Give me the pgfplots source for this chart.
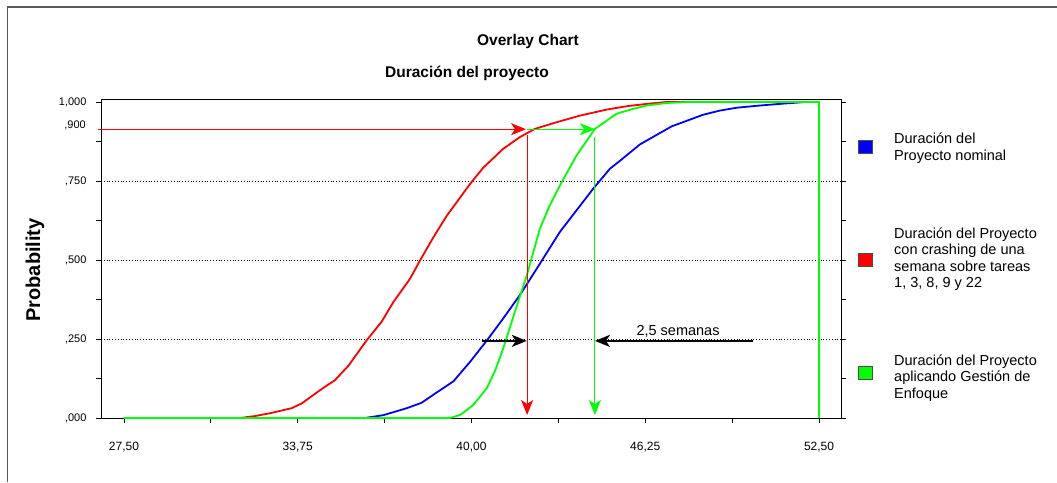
\documentclass[border=0pt]{standalone}
\usepackage{fontspec}
\setmainfont{Liberation Sans}
\usepackage{pgfplots}
\pgfplotsset{compat=1.18}
\usetikzlibrary{arrows.meta}
\definecolor{cblue}{RGB}{0,0,255}
\definecolor{cred}{RGB}{255,0,0}
\definecolor{cgreen}{RGB}{0,255,0}
\tikzset{bighead/.style={-{Stealth[length=15pt,width=12pt,inset=4pt]}}}
\begin{document}
\begin{tikzpicture}[x=1pt,y=1pt]
\path[use as bounding box] (0,0) rectangle (1057,482);
\draw[black!65, line width=1.3pt] (7.5,0) -- (7.5,475) -- (1057,475);
\begin{axis}[
  at={(101pt,64pt)}, anchor=south west,
  scale only axis, width=740pt, height=318.5pt,
  xmin=26.673, xmax=53.291, ymin=0, ymax=1.008,
  clip=false,
  axis line style={black, line width=1pt},
  tick align=outside,
  major tick length=5pt, minor tick length=5pt,
  tick style={black, line width=0.8pt},
  xtick pos=left,
  xtick={27.5,33.75,40,46.25,52.5},
  xticklabels={{27,50},{33,75},{40,00},{46,25},{52,50}},
  minor xtick={30.625,36.875,43.125,49.375},
  ytick={0,0.25,0.5,0.75,1},
  yticklabels={{,000},{,250},{,500},{,750},{1,000}},
  minor ytick={0.125,0.375,0.625,0.875},
  extra y ticks={0.25,0.5,0.75},
  extra y tick labels={},
  extra y tick style={grid=major},
  major grid style={black, line width=0.9pt, dash pattern=on 1pt off 1.8pt},
  yticklabel style={font=\fontsize{11}{13}\selectfont, xshift=-6pt},
  xticklabel style={font=\fontsize{12}{14}\selectfont, yshift=-16pt},
]
\addplot[cblue, line width=1.8pt] coordinates {
(27.5,0) (36.17,0) (36.83,0.009) (37.67,0.031) (38.2,0.048) (38.87,0.088)
(39.35,0.116) (39.95,0.178) (40.55,0.245) (41.14,0.315) (41.74,0.389)
(42.35,0.473) (43.18,0.589) (44.38,0.726) (44.98,0.789) (45.34,0.814)
(46.06,0.866) (47.2,0.923) (48.34,0.96) (48.94,0.973) (49.54,0.982)
(50.38,0.989) (51.22,0.995) (52.0,1.0) (52.5,1.0)};
\addplot[cred, line width=1.8pt] coordinates {
(27.5,0) (31.67,0) (32.2,0.006) (32.75,0.015) (33.53,0.031) (33.89,0.046)
(34.55,0.088) (35.09,0.12) (35.57,0.165) (36.23,0.246) (36.77,0.305)
(37.19,0.367) (37.79,0.441) (38.15,0.499) (38.63,0.572) (39.11,0.64)
(39.95,0.741) (40.42,0.792) (41.14,0.852) (41.74,0.889) (42.28,0.915)
(43.06,0.936) (43.9,0.957) (44.86,0.976) (45.6,0.987) (46.3,0.994)
(47.0,1.0) (52.5,1.0)};
\addplot[cgreen, line width=1.8pt] coordinates {
(27.5,0) (39.23,0) (39.6,0.01) (40.06,0.041) (40.55,0.094) (40.85,0.15)
(41.14,0.22) (41.56,0.336) (41.99,0.452) (42.46,0.599) (42.8,0.67)
(43.18,0.736) (43.78,0.831) (44.44,0.915) (45.22,0.963) (45.8,0.978)
(46.3,0.989) (47.02,0.997) (47.8,1.0) (52.5,1.0) (52.5,0)};
% annotation arrows
\addplot[cred, line width=1pt, bighead] coordinates {(26.55,0.914) (41.96,0.914)};
\addplot[cgreen, line width=1pt, bighead] coordinates {(42.0,0.914) (44.44,0.914)};
\addplot[cred, line width=1pt, bighead] coordinates {(42.0,0.896) (42.0,0.0095)};
\addplot[cgreen, line width=1pt, bighead] coordinates {(44.44,0.89) (44.44,0.0095)};
\addplot[black, line width=1.8pt, bighead] coordinates {(40.37,0.244) (41.99,0.244)};
\addplot[black, line width=1.8pt, bighead] coordinates {(50.14,0.244) (44.44,0.244)};
\node[font=\fontsize{14.5}{16}\selectfont] at (axis cs:47.43,0.275) {2,5 semanas};
\end{axis}
% ,900 label
\node[anchor=east, inner sep=0pt, font=\fontsize{11}{13}\selectfont] at (86,356.3) {,900};
% titles
\node[font=\bfseries\fontsize{15.5}{18}\selectfont] at (528,441) {Overlay Chart};
\node[font=\bfseries\fontsize{15.5}{18}\selectfont] at (467,409) {Duración del proyecto};
\node[rotate=90, font=\bfseries\fontsize{20}{24}\selectfont] at (35,212) {Probability};
% legend
\filldraw[fill=cblue, draw=black!70, line width=0.8pt] (858,328.5) rectangle (872,341.5);
\filldraw[fill=cred, draw=black!70, line width=0.8pt] (858,215.5) rectangle (872,228.5);
\filldraw[fill=cgreen, draw=black!70, line width=0.8pt] (858,102.5) rectangle (872,115.5);
\node[anchor=west, align=left, inner sep=0pt, font=\fontsize{14.5}{16.5}\selectfont] at (894,334) {Duración del\\Proyecto nominal};
\node[anchor=west, align=left, inner sep=0pt, font=\fontsize{14.5}{16.5}\selectfont] at (894,223) {Duración del Proyecto\\con crashing de una\\semana sobre tareas\\1, 3, 8, 9 y 22};
\node[anchor=west, align=left, inner sep=0pt, font=\fontsize{14.5}{16.5}\selectfont] at (894,104) {Duración del Proyecto\\aplicando Gestión de\\Enfoque};
\end{tikzpicture}
\end{document}
